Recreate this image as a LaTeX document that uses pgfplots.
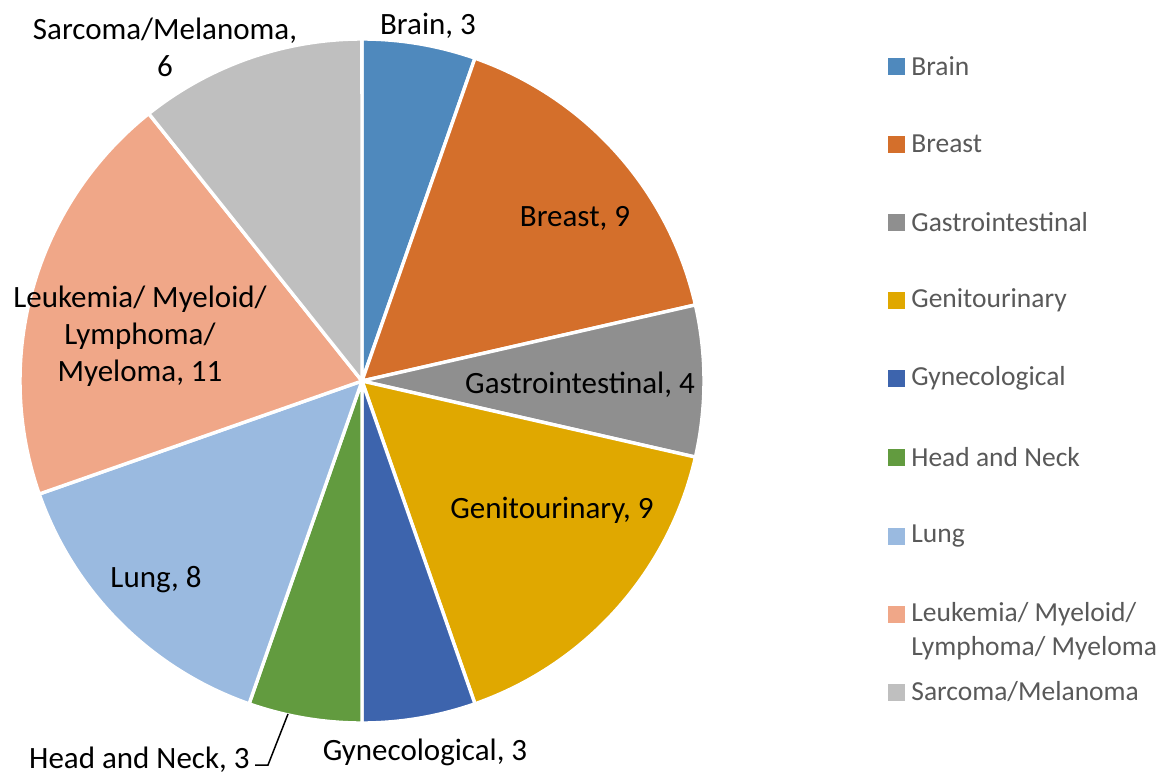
\documentclass[border=0pt]{standalone}
\usepackage{pgfplots}
\pgfplotsset{compat=1.18}
\usepackage{fontspec}
\setmainfont{Carlito}
\definecolor{cBrain}{HTML}{4F89BD}
\definecolor{cBreast}{HTML}{D46F2B}
\definecolor{cGastro}{HTML}{8F8F8F}
\definecolor{cGenito}{HTML}{E0A800}
\definecolor{cGyn}{HTML}{3D64AD}
\definecolor{cHead}{HTML}{629B3F}
\definecolor{cLung}{HTML}{9ABAE0}
\definecolor{cLeuk}{HTML}{F0A788}
\definecolor{cSarc}{HTML}{BFBFBF}
\definecolor{legtext}{HTML}{595959}
% counts: Brain 3, Breast 9, Gastrointestinal 4, Genitourinary 9, Gynecological 3,
% Head and Neck 3, Lung 8, Leukemia/Myeloid/Lymphoma/Myeloma 11, Sarcoma/Melanoma 6 (total 56)
\newcommand{\slice}[3]{%
  \addplot[fill=#1, draw=white, line width=1.7pt, line join=round, domain={#2*360/56}:{#3*360/56}, samples=60, variable=\t]
    ({362+342*sin(\t)},{381-342*cos(\t)}) -- (axis cs:362,381) -- cycle;}
\newcommand{\legsq}[2]{%
  \addplot[only marks, mark=square*, mark size=4pt, color=#1, mark options={draw=#1, fill=#1}] coordinates {(896.5,#2)};}
\begin{document}
\begin{tikzpicture}
\begin{axis}[hide axis, scale only axis, width=587.5pt, height=388pt,
  xmin=0, xmax=1175, ymin=0, ymax=776, y dir=reverse, clip=false]
\addplot[draw=none, forget plot] coordinates {(0,0) (1175,776)};
\slice{cBrain}{0}{3}
\slice{cBreast}{3}{12}
\slice{cGastro}{12}{16}
\slice{cGenito}{16}{25}
\slice{cGyn}{25}{28}
\slice{cHead}{28}{31}
\slice{cLung}{31}{39}
\slice{cLeuk}{39}{50}
\slice{cSarc}{50}{56}
% leader line
\addplot[black, line width=0.75pt] coordinates {(255,765) (268,765) (288,714)};
% data labels
\begin{scope}[every node/.style={font=\fontsize{15.5}{18.5}\selectfont, text=black, align=center}]
\node at (axis cs:428,26) {Brain, 3};
\node at (axis cs:165,47) {Sarcoma/Melanoma,\\6};
\node at (axis cs:575,218) {Breast, 9};
\node at (axis cs:580,385) {Gastrointestinal, 4};
\node at (axis cs:552,510) {Genitourinary, 9};
\node at (axis cs:425,752) {Gynecological, 3};
\node[anchor=east, inner sep=0pt] at (axis cs:250,760) {Head and Neck, 3};
\node at (axis cs:156,580) {Lung, 8};
\node at (axis cs:140,336) {Leukemia/ Myeloid/\\Lymphoma/\\Myeloma, 11};
\end{scope}
% legend
\legsq{cBrain}{66}
\legsq{cBreast}{144}
\legsq{cGastro}{222}
\legsq{cGenito}{300}
\legsq{cGyn}{378}
\legsq{cHead}{457}
\legsq{cLung}{536}
\legsq{cLeuk}{614}
\legsq{cSarc}{692}
\begin{scope}[every node/.style={font=\fontsize{13.75}{17}\selectfont, text=legtext, anchor=west, inner sep=0pt}]
\node at (axis cs:911,66) {Brain};
\node at (axis cs:911,144) {Breast};
\node at (axis cs:911,222) {Gastrointestinal};
\node at (axis cs:911,300) {Genitourinary};
\node at (axis cs:911,378) {Gynecological};
\node at (axis cs:911,457) {Head and Neck};
\node at (axis cs:911,536) {Lung};
\node at (axis cs:911,614) {Leukemia/ Myeloid/};
\node at (axis cs:911,648) {Lymphoma/ Myeloma};
\node at (axis cs:911,692) {Sarcoma/Melanoma};
\end{scope}
\end{axis}
\end{tikzpicture}
\end{document}
